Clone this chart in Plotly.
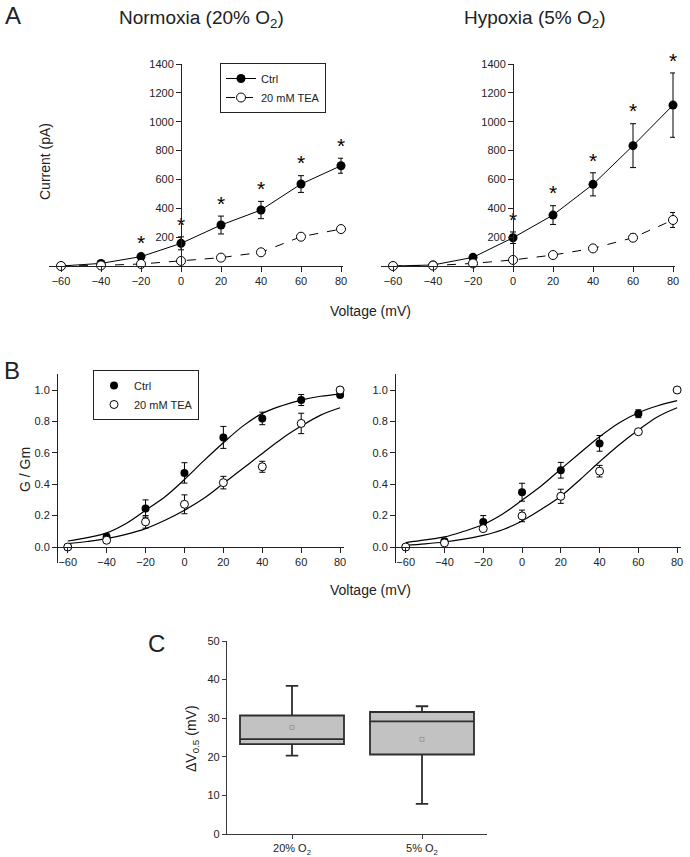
import plotly.graph_objects as go

# ---- data ----
volt = [-60, -40, -20, 0, 20, 40, 60, 80]

# A: I-V curves (pA)
norm_ctrl = [0, 18, 65, 157, 284, 388, 568, 695]
norm_ctrl_err = [0, 8, 12, 45, 62, 60, 58, 52]
norm_tea = [0, 4, 14, 35, 58, 95, 203, 256]
norm_tea_err = [0, 3, 5, 8, 8, 10, 20, 10]
norm_stars = [-20, 0, 20, 40, 60, 80]

hyp_ctrl = [0, 7, 60, 196, 353, 566, 834, 1115]
hyp_ctrl_err = [0, 5, 10, 40, 65, 80, 152, 223]
hyp_tea = [0, 3, 18, 42, 76, 122, 196, 319]
hyp_tea_err = [0, 3, 5, 8, 10, 12, 25, 52]
hyp_stars = [0, 20, 40, 60, 80]

# B: G/Gm
g_norm_ctrl = [0, 0.064, 0.245, 0.472, 0.698, 0.819, 0.936, 0.968]
g_norm_ctrl_err = [0.01, 0.02, 0.055, 0.065, 0.07, 0.04, 0.035, 0.01]
g_norm_tea = [0, 0.043, 0.16, 0.272, 0.41, 0.511, 0.787, 1.0]
g_norm_tea_err = [0.01, 0.015, 0.04, 0.06, 0.04, 0.035, 0.065, 0]

g_hyp_ctrl = [0, 0.036, 0.16, 0.349, 0.489, 0.66, 0.849, None]
g_hyp_ctrl_err = [0.01, 0.01, 0.04, 0.057, 0.05, 0.05, 0.025, 0]
g_hyp_tea = [0, 0.026, 0.117, 0.198, 0.323, 0.483, 0.734, 1.0]
g_hyp_tea_err = [0.01, 0.01, 0.01, 0.037, 0.045, 0.037, 0.015, 0]

# fitted curves (read at 10 mV steps)
fit_v = [-60, -50, -40, -30, -20, -10, 0, 10, 20, 30, 40, 50, 60, 70, 80]
fit_norm_ctrl = [0.038, 0.06, 0.09, 0.15, 0.234, 0.32, 0.43, 0.55, 0.664, 0.77, 0.851, 0.90, 0.936, 0.96, 0.974]
fit_norm_tea = [0.021, 0.035, 0.053, 0.08, 0.117, 0.17, 0.234, 0.31, 0.404, 0.50, 0.596, 0.69, 0.77, 0.84, 0.887]
fit_hyp_ctrl = [0.028, 0.045, 0.064, 0.10, 0.143, 0.21, 0.298, 0.39, 0.496, 0.60, 0.702, 0.79, 0.855, 0.90, 0.932]
fit_hyp_tea = [0.011, 0.02, 0.032, 0.05, 0.074, 0.11, 0.166, 0.24, 0.323, 0.43, 0.543, 0.65, 0.745, 0.83, 0.887]

# C: delta V0.5 box stats
box_cats = ["20% O<sub>2</sub>", "5% O<sub>2</sub>"]
box_q1 = [23.3, 20.6]
box_median = [24.6, 29.2]
box_q3 = [30.7, 31.6]
box_low = [20.3, 7.8]
box_high = [38.4, 33.1]
box_mean = [27.6, 24.5]

W, H = 690, 857
FONT = "Liberation Sans, Arial, sans-serif"
INK = "#222"


def px_x(a, b):
    return [a / W, b / W]


def px_y(top, bot):
    return [1 - bot / H, 1 - top / H]


fig = go.Figure()


def iv_traces(xa, ya, ctrl, cerr, tea, terr, stars, legend):
    fig.add_trace(go.Scatter(
        x=volt, y=ctrl, mode="lines+markers", name="Ctrl", xaxis=xa, yaxis=ya,
        line=dict(color="black", width=1),
        marker=dict(symbol="circle", size=9, color="black"),
        error_y=dict(type="data", array=cerr, color="black", thickness=1, width=3),
        cliponaxis=False, showlegend=legend, legend="legend"))
    fig.add_trace(go.Scatter(
        x=volt, y=tea, mode="lines+markers", name="20 mM TEA", xaxis=xa, yaxis=ya,
        line=dict(color="black", width=1, dash="dash"),
        marker=dict(symbol="circle", size=9, color="white", line=dict(color="black", width=1)),
        error_y=dict(type="data", array=terr, color="black", thickness=1, width=3),
        cliponaxis=False, showlegend=legend, legend="legend"))
    sy = [ctrl[volt.index(v)] + cerr[volt.index(v)] for v in stars]
    fig.add_trace(go.Scatter(
        x=stars, y=sy, mode="text", text=["*"] * len(stars), textposition="top center",
        textfont=dict(size=21, color="black", family=FONT), xaxis=xa, yaxis=ya,
        cliponaxis=False, showlegend=False))


def g_traces(xa, ya, ctrl, cerr, tea, terr, fc, ft, legend):
    for fit in (fc, ft):
        fig.add_trace(go.Scatter(
            x=fit_v, y=fit, mode="lines", line=dict(color="black", width=1.2, shape="spline"),
            xaxis=xa, yaxis=ya, showlegend=False, hoverinfo="skip"))
    fig.add_trace(go.Scatter(
        x=volt, y=ctrl, mode="markers", name="Ctrl", xaxis=xa, yaxis=ya,
        marker=dict(symbol="circle", size=8, color="black"),
        error_y=dict(type="data", array=cerr, color="black", thickness=1, width=3),
        cliponaxis=False, showlegend=legend, legend="legend2"))
    fig.add_trace(go.Scatter(
        x=volt, y=tea, mode="markers", name="20 mM TEA", xaxis=xa, yaxis=ya,
        marker=dict(symbol="circle", size=8, color="white", line=dict(color="black", width=1)),
        error_y=dict(type="data", array=terr, color="black", thickness=1, width=3),
        cliponaxis=False, showlegend=legend, legend="legend2"))


iv_traces("x", "y", norm_ctrl, norm_ctrl_err, norm_tea, norm_tea_err, norm_stars, True)
iv_traces("x2", "y2", hyp_ctrl, hyp_ctrl_err, hyp_tea, hyp_tea_err, hyp_stars, False)
g_traces("x3", "y3", g_norm_ctrl, g_norm_ctrl_err, g_norm_tea, g_norm_tea_err,
         fit_norm_ctrl, fit_norm_tea, True)
g_traces("x4", "y4", g_hyp_ctrl, g_hyp_ctrl_err, g_hyp_tea, g_hyp_tea_err,
         fit_hyp_ctrl, fit_hyp_tea, False)

fig.add_trace(go.Box(
    x=box_cats, q1=box_q1, median=box_median, q3=box_q3,
    lowerfence=box_low, upperfence=box_high, width=0.8, whiskerwidth=0.12,
    fillcolor="#c2c2c2", line=dict(color="#2e2e2e", width=1.8),
    boxpoints=False, xaxis="x5", yaxis="y5", showlegend=False))
fig.add_trace(go.Scatter(
    x=box_cats, y=box_mean, mode="markers", xaxis="x5", yaxis="y5",
    marker=dict(symbol="square-open", size=4, color="#999", line=dict(width=1)),
    showlegend=False))

tickfont = dict(family=FONT, size=11, color=INK)
ax_common = dict(showline=True, linecolor="#222", linewidth=1, ticks="outside",
                 ticklen=5, tickwidth=1, tickcolor="#222", showgrid=False,
                 zeroline=False, tickfont=tickfont, automargin=False)

# A axes
a_xr = [-66, 81]
a_dom_l = px_x(49, 343)
a_dom_r = px_x(381, 675)
a_ydom = px_y(64, 266)


def zero_pos(dom, rng):
    return dom[0] + (0 - rng[0]) / (rng[1] - rng[0]) * (dom[1] - dom[0])


for i, dom in ((1, a_dom_l), (2, a_dom_r)):
    sfx = "" if i == 1 else str(i)
    fig.update_layout(**{
        "xaxis" + sfx: dict(ax_common, domain=dom, range=a_xr, anchor="y" + sfx,
                            tickvals=volt),
        "yaxis" + sfx: dict(ax_common, domain=a_ydom, range=[0, 1400], anchor="free",
                            position=zero_pos(dom, a_xr),
                            tickvals=[200, 400, 600, 800, 1000, 1200, 1400]),
    })

# B axes
b_xr = [-65, 82]
b_yr = [-0.1, 1.1]
b_ydom = px_y(374.3, 562.7)
for i, dom in ((3, px_x(58, 344)), (4, px_x(396, 681))):
    fig.update_layout(**{
        "xaxis%d" % i: dict(ax_common, domain=dom, range=b_xr, anchor="free",
                            position=zero_pos(b_ydom, b_yr), tickvals=volt),
        "yaxis%d" % i: dict(ax_common, domain=b_ydom, range=b_yr, anchor="x%d" % i,
                            tickvals=[0, 0.2, 0.4, 0.6, 0.8, 1.0], tickformat=".1f"),
    })

# C axes
c_common = dict(ax_common, linecolor="#3a3a3a", tickcolor="#3a3a3a", linewidth=1.3)
fig.update_layout(
    xaxis5=dict(c_common, domain=px_x(227, 487), range=[-0.5, 1.5], anchor="y5",
                type="category", ticklen=4),
    yaxis5=dict(c_common, domain=px_y(641, 834), range=[0, 50], anchor="x5",
                tickvals=[0, 10, 20, 30, 40, 50], ticklen=4),
)

legend_style = dict(bordercolor="#222", borderwidth=1, bgcolor="white",
                    font=dict(family=FONT, size=11, color=INK), xanchor="left",
                    yanchor="top", tracegroupgap=0)
fig.update_layout(
    template="none",
    width=W, height=H, margin=dict(l=0, r=0, t=0, b=0),
    paper_bgcolor="white", plot_bgcolor="white", font=dict(family=FONT, color=INK),
    legend=dict(legend_style, x=220 / W, y=1 - 63 / H, itemwidth=30),
    legend2=dict(legend_style, x=93 / W, y=1 - 370 / H, itemwidth=30),
)


def note(text, x, y, size, angle=0):
    fig.add_annotation(text=text, x=x / W, y=1 - y / H, xref="paper", yref="paper",
                       xanchor="center", yanchor="middle",
                       showarrow=False, textangle=angle,
                       font=dict(family=FONT, size=size, color=INK))


note("A", 13, 16, 24)
note("B", 12, 370, 24)
note("C", 156, 643, 24)
note("Normoxia (20% O<sub>2</sub>)", 201, 19, 19)
note("Hypoxia (5% O<sub>2</sub>)", 535, 19, 19)
note("Current (pA)", 45, 162, 14, -90)
note("Voltage (mV)", 370, 311, 14)
note("G / Gm", 25, 470, 14, -90)
note("Voltage (mV)", 370, 590, 14)
note("ΔV<sub>0.5</sub> (mV)", 192, 739, 14, -90)

# drop the default page margin so the figure sits at the window's corner
fig.write_html("out.html", config={"displayModeBar": False},
               post_script="document.body.style.margin='0';")
